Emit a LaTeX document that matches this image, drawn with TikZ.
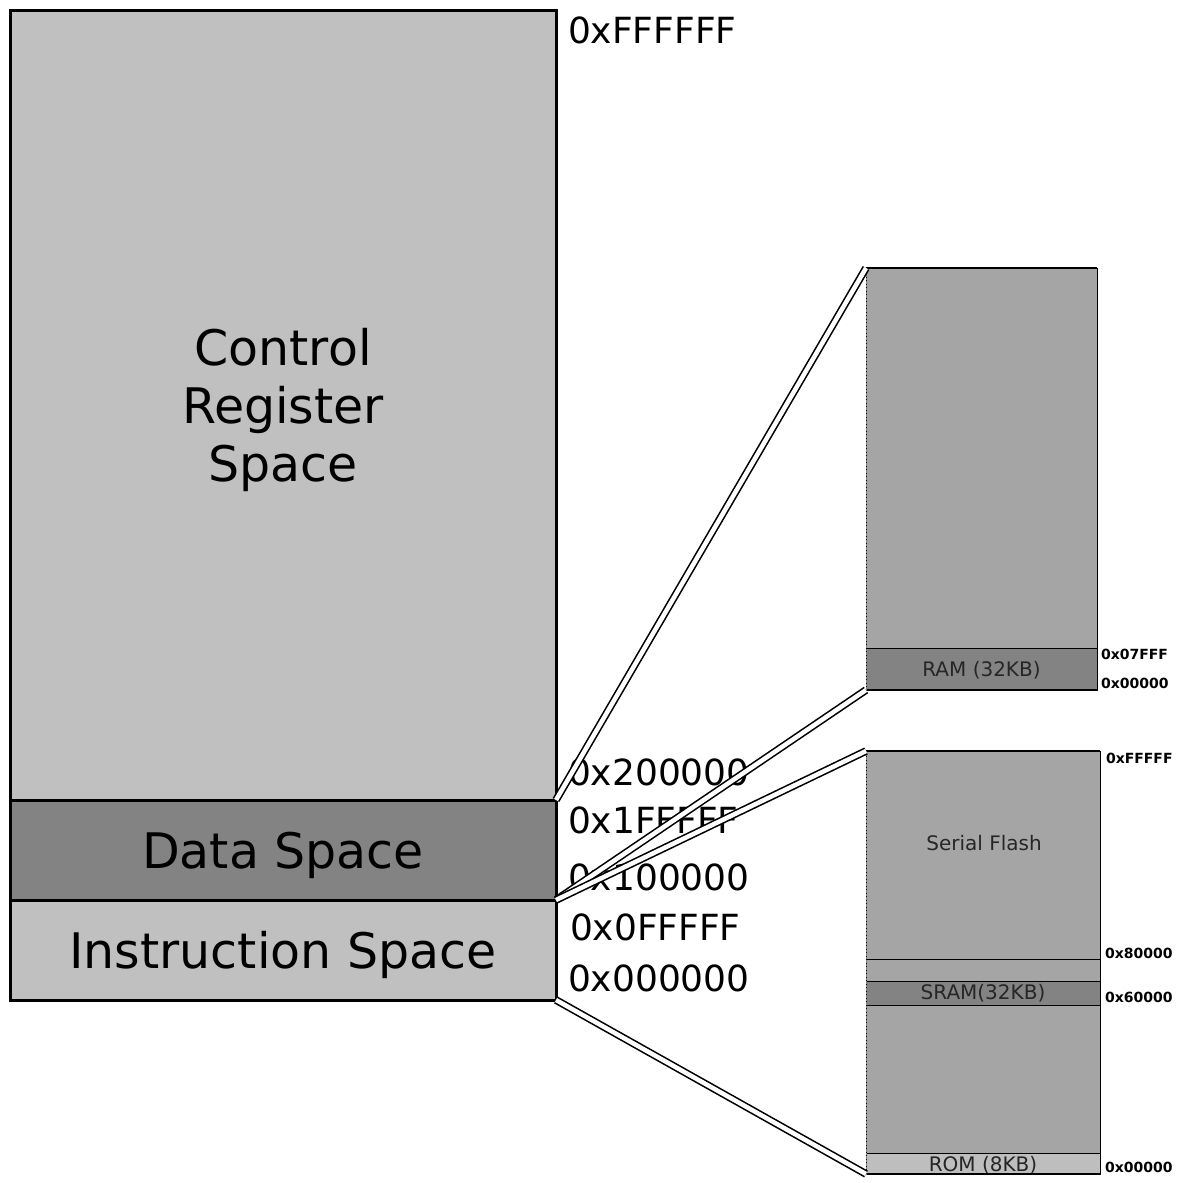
\documentclass[tikz,border=0pt]{standalone}
\usepackage{fontspec}
\setmainfont{DejaVu Sans}
\usetikzlibrary{positioning}

\definecolor{lightgrey}{HTML}{C0C0C0}
\definecolor{midgrey}{HTML}{A5A5A5}
\definecolor{darkgrey}{HTML}{838383}
\definecolor{romgrey}{HTML}{BEBEBE}

\begin{document}
\begin{tikzpicture}[x=1pt,y=-1pt,inner sep=0pt,outer sep=0pt]
  \tikzstyle{space}=[draw=black,line width=3pt,minimum width=546pt,text depth=0pt,
                     font=\fontsize{49}{58}\selectfont,align=center]
  \tikzstyle{cell}=[draw=black,line width=0.8pt,text=black!85,
                    font=\fontsize{20}{24}\selectfont]
  \tikzstyle{bigaddr}=[anchor=west,font=\fontsize{36}{40}\selectfont]
  \tikzstyle{addr}=[anchor=west,font=\fontsize{14}{16}\selectfont\bfseries]
  \tikzstyle{link}=[line width=1.6pt,double=white,double distance=4.5pt]

  \useasboundingbox (0,0) rectangle (1181,1183);

  % address space
  \node[space,fill=lightgrey,minimum height=790pt,anchor=north west] (ctrl) at (10,10)
       {Control\\Register\\ Space};
  \node[space,fill=darkgrey,minimum height=100pt] (data) [below=0pt of ctrl] {Data Space};
  \node[space,fill=lightgrey,minimum height=100pt] (instr) [below=0pt of data] {Instruction Space};

  % data memory
  \node[cell,fill=midgrey,minimum width=231pt,minimum height=380pt,anchor=north west] (ramtop) at (866,268) {};
  \node[cell,fill=darkgrey,minimum width=231pt,minimum height=42pt,text depth=0pt] (ram) [below=0pt of ramtop] {RAM (32KB)};

  % instruction memory
  \node[cell,fill=midgrey,minimum width=234pt,minimum height=208pt,anchor=north west] (flash) at (866,751) {};
  \node[cell,fill=midgrey,minimum width=234pt,minimum height=22pt] (gap) [below=0pt of flash] {};
  \node[cell,fill=darkgrey,minimum width=234pt,minimum height=24pt] (sram) [below=0pt of gap] {SRAM(32KB)};
  \node[cell,fill=midgrey,minimum width=234pt,minimum height=148pt] (low) [below=0pt of sram] {};
  \node[cell,fill=romgrey,minimum width=234pt,minimum height=21pt,text depth=0pt] (rom) [below=0pt of low] {ROM (8KB)};
  \node[cell,draw=none] (flashlbl) at (984,843) {Serial Flash};

  \draw[line width=2pt] (ramtop.north west) -- (ramtop.north east);
  \draw[line width=2pt] (ram.south west) -- (ram.south east);
  \draw[line width=2pt] (flash.north west) -- (flash.north east);
  \draw[line width=2pt] (rom.south west) -- (rom.south east);
  \draw[gray,densely dotted] (ramtop.north west) -- (ram.south west);
  \draw[gray,densely dotted] (flash.north west) -- (rom.south west);

  % addresses
  \node[bigaddr] (a1) at (568,30) {0xFFFFFF};
  \node[bigaddr] (a2) at (568,772) {0x200000};
  \node[bigaddr] (a3) at (568,820) {0x1FFFFF};
  \node[bigaddr] (a4) at (568,877) {0x100000};
  \node[bigaddr] (a5) at (570,927) {0x0FFFFF};
  \node[bigaddr] (a6) at (568,978) {0x000000};

  \node[addr] (r1) at (1101,654) {0x07FFF};
  \node[addr] (r2) at (1101,683) {0x00000};
  \node[addr] (f1) at (1106,758) {0xFFFFF};
  \node[addr] (f2) at (1105,953) {0x80000};
  \node[addr] (f3) at (1105,997) {0x60000};
  \node[addr] (f4) at (1105,1167) {0x00000};

  % zoom lines
  \draw[link] (data.north east) -- (ramtop.north west);
  \draw[link] (data.south east) -- (ram.south west);
  \draw[link] (instr.north east) -- (flash.north west);
  \draw[link] (instr.south east) -- (rom.south west);
\end{tikzpicture}
\end{document}
